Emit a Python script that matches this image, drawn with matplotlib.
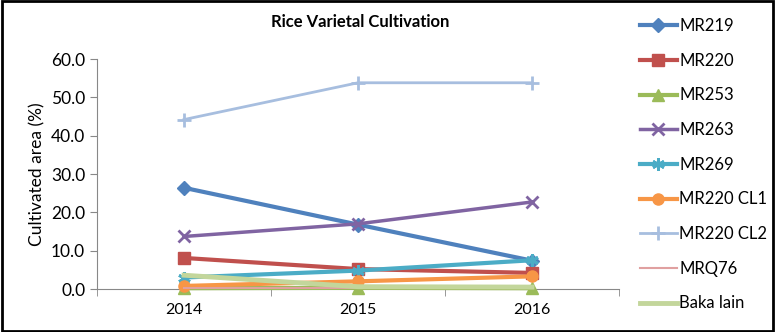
import numpy as np
import matplotlib.pyplot as plt
from matplotlib.patches import Rectangle

plt.rcParams['font.family'] = ['Lato', 'DejaVu Sans']

years = ['2014', '2015', '2016']
varieties = ['MR219', 'MR220', 'MR253', 'MR263', 'MR269',
             'MR220 CL1', 'MR220 CL2', 'MRQ76', 'Baka lain']
mr219 = [26.4, 16.8, 7.4]
mr220 = [8.1, 5.2, 4.2]
mr253 = [0.2, 0.3, 0.2]
mr263 = [13.7, 17.0, 22.7]
mr269 = [3.0, 4.8, 7.5]
mr220_cl1 = [0.8, 2.0, 3.3]
mr220_cl2 = [44.2, 53.8, 53.8]
mrq76 = [0.2, 0.2, 0.2]
baka_lain = [3.6, 0.6, 0.5]
series = [mr219, mr220, mr253, mr263, mr269, mr220_cl1, mr220_cl2, mrq76, baka_lain]

colors = ['#4F81BD', '#C0504D', '#9BBB59', '#8064A2', '#4BACC6',
          '#F79646', '#A7BEDF', '#E0A0A0', '#C3D69B']
markers = ['D', 's', '^', 'x', (6, 2, 0), 'o', '+', None, None]
msizes = [7, 8, 8, 9, 9, 8, 10, 0, 0]
lws = [3, 3, 3, 2.5, 3, 3, 2, 1.5, 3.5]

fig = plt.figure(figsize=(7.75, 3.32), dpi=100)
ax = fig.add_axes([97/775, 1-289/332, (619-97)/775, (289-59)/332])

x = np.arange(len(years))
for vals, c, m, ms, lw, name in zip(series, colors, markers, msizes, lws, varieties):
    ax.plot(x, vals, color=c, marker=m, markersize=ms, linewidth=lw,
            markeredgewidth=2 if m in ('x', '+') or isinstance(m, tuple) else 1,
            markeredgecolor=c, label=name, clip_on=False, zorder=3)

ax.set_xlim(-0.5, 2.5)
ax.set_ylim(0, 60)
ax.set_yticks(np.arange(0, 61, 10))
ax.set_yticklabels([f'{v:.1f}' for v in np.arange(0, 61, 10)], fontsize=12.5)
ax.set_xticks(x)
ax.set_xticklabels(years, fontsize=11.5)
ax.set_xticks([-0.5, 0.5, 1.5, 2.5], minor=True)
ax.tick_params(axis='x', which='major', length=0, pad=10)
ax.tick_params(axis='x', which='minor', length=5, color='#888888', direction='out')
ax.tick_params(axis='y', length=5, color='#888888', direction='out')
for s in ['top', 'right']:
    ax.spines[s].set_visible(False)
for s in ['left', 'bottom']:
    ax.spines[s].set_color('#888888')
ax.set_ylabel('Cultivated area (%)', fontsize=12.5)

fig.text(360/775, 1-22/332, 'Rice Varietal Cultivation', ha='center', va='center',
         fontsize=12, fontweight='bold')

fig.legend(loc='upper left', bbox_to_anchor=(640/775, 1-18/332), frameon=False,
           fontsize=12, handlelength=2.2, labelspacing=1.12, borderpad=0,
           handletextpad=0.15, borderaxespad=0)

fig.patches.append(Rectangle((0.002, 0.004), 0.996, 0.992, transform=fig.transFigure,
                             fill=False, edgecolor='black', linewidth=2))

fig.savefig('out.png', dpi=100)
